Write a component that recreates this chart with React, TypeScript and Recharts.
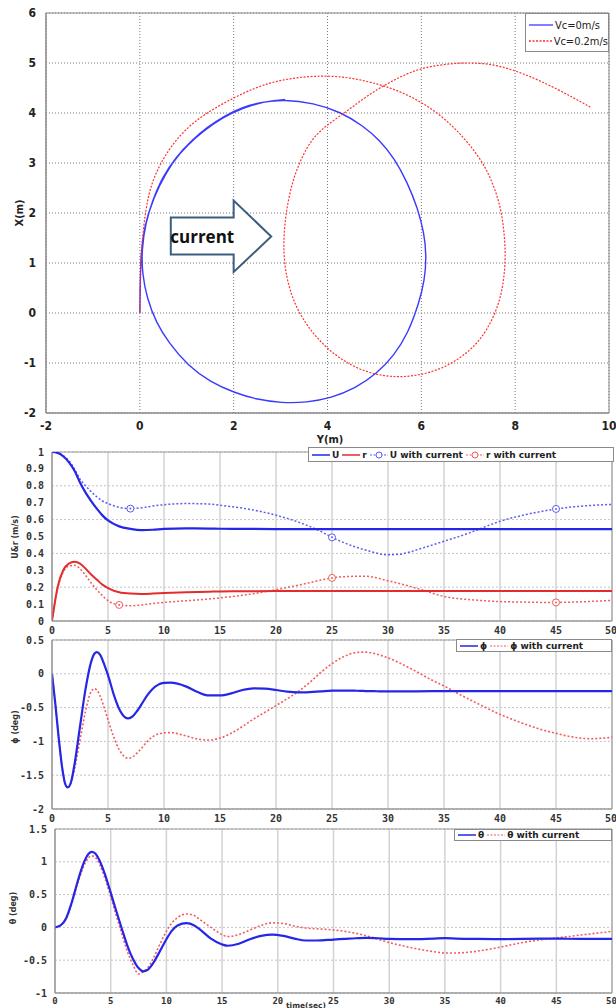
import { LineChart, Line, XAxis, YAxis, CartesianGrid, ReferenceArea, Legend } from 'recharts'

// ---- trajectory plot (Y horizontal, X vertical) ----
const trackY0 = [0, 0.01, 0.02, 0.1, 0.27, 0.48, 0.77, 1.1, 1.44, 1.8, 2.19, 2.6, 3.07, 3.7, 4.28, 4.75, 5.12, 5.42, 5.7, 5.92, 6.06, 6.11, 6.07, 5.95, 5.72, 5.42, 5.04, 4.6, 4.08, 3.55, 3.03, 2.5, 2.03, 1.5, 1.02, 0.62, 0.35, 0.15, 0.05, 0.04, 0.12, 0.29, 0.55, 0.85, 1.2, 1.55, 1.95, 2.4, 2.9, 3.1]
const trackX0 = [0, 0.6, 1.19, 1.75, 2.25, 2.72, 3.12, 3.45, 3.72, 3.94, 4.12, 4.22, 4.27, 4.2, 4.02, 3.75, 3.45, 3.1, 2.62, 2.1, 1.6, 1.15, 0.65, 0.2, -0.4, -0.85, -1.22, -1.5, -1.7, -1.79, -1.8, -1.73, -1.6, -1.38, -1.05, -0.6, -0.2, 0.3, 0.8, 1.25, 1.8, 2.3, 2.8, 3.2, 3.52, 3.78, 4.0, 4.17, 4.26, 4.27]
const trackY2 = [0, 0.005, 0.03, 0.08, 0.18, 0.36, 0.6, 0.88, 1.19, 1.6, 2.03, 2.45, 2.86, 3.4, 4.0, 4.55, 5.12, 5.55, 5.96, 6.35, 6.71, 7.0, 7.3, 7.5, 7.67, 7.76, 7.8, 7.76, 7.65, 7.4, 7.12, 6.8, 6.42, 5.95, 5.46, 4.95, 4.5, 4.1, 3.75, 3.45, 3.24, 3.11, 3.06, 3.08, 3.15, 3.26, 3.42, 3.64, 3.95, 4.35, 4.75, 5.16, 5.56, 5.96, 6.5, 7.0, 7.5, 7.97, 8.45, 8.89, 9.25, 9.6]
const trackX2 = [0, 0.6, 1.2, 1.75, 2.39, 2.85, 3.25, 3.58, 3.85, 4.1, 4.32, 4.5, 4.63, 4.72, 4.75, 4.7, 4.57, 4.43, 4.24, 4.0, 3.7, 3.4, 3.03, 2.65, 2.2, 1.7, 1.15, 0.65, 0.15, -0.35, -0.68, -0.92, -1.12, -1.25, -1.29, -1.22, -1.05, -0.8, -0.48, -0.1, 0.32, 0.78, 1.25, 1.72, 2.2, 2.65, 3.05, 3.45, 3.74, 3.99, 4.28, 4.53, 4.73, 4.89, 4.98, 5.01, 4.98, 4.86, 4.68, 4.48, 4.3, 4.12]
const trackTicksY = [-2, 0, 2, 4, 6, 8, 10]
const trackTicksX = [-2, -1, 0, 1, 2, 3, 4, 5, 6]

// "current" arrow outline, in (Y, X) metres
const arrowY = [0.66, 2.0, 2.0, 2.8, 2.0, 2.0, 0.66]
const arrowX = [1.91, 1.91, 2.25, 1.53, 0.82, 1.17, 1.17]

// ---- time histories ----
const timeTicks = [0, 5, 10, 15, 20, 25, 30, 35, 40, 45, 50]

const tSpeed = [0, 0.5, 1, 1.5, 2, 2.5, 3, 3.5, 4, 4.5, 5, 6, 7, 8, 9, 10, 12, 14, 15, 17, 20, 22, 24, 25, 26, 28, 30, 31, 33, 35, 37, 38, 40, 42, 44, 45, 47, 50]
const uSpeed = [1.0, 0.995, 0.975, 0.94, 0.89, 0.82, 0.76, 0.71, 0.665, 0.625, 0.595, 0.56, 0.545, 0.538, 0.54, 0.545, 0.548, 0.547, 0.546, 0.545, 0.544, 0.544, 0.544, 0.544, 0.544, 0.544, 0.544, 0.544, 0.544, 0.544, 0.544, 0.544, 0.544, 0.544, 0.544, 0.544, 0.544, 0.544]
const rSpeed = [0, 0.2, 0.3, 0.34, 0.35, 0.34, 0.31, 0.275, 0.245, 0.215, 0.195, 0.17, 0.162, 0.16, 0.162, 0.165, 0.17, 0.173, 0.175, 0.176, 0.177, 0.177, 0.177, 0.177, 0.177, 0.177, 0.177, 0.177, 0.177, 0.177, 0.177, 0.177, 0.177, 0.177, 0.177, 0.177, 0.177, 0.177]
const uSpeedCur = [1.0, 0.995, 0.978, 0.95, 0.9, 0.84, 0.8, 0.765, 0.735, 0.71, 0.695, 0.672, 0.665, 0.67, 0.68, 0.688, 0.695, 0.692, 0.685, 0.668, 0.626, 0.585, 0.53, 0.495, 0.465, 0.42, 0.392, 0.395, 0.43, 0.472, 0.515, 0.54, 0.59, 0.625, 0.652, 0.663, 0.678, 0.69]
const rSpeedCur = [0, 0.19, 0.29, 0.325, 0.33, 0.31, 0.27, 0.225, 0.185, 0.15, 0.12, 0.095, 0.09, 0.095, 0.103, 0.11, 0.12, 0.13, 0.137, 0.152, 0.185, 0.212, 0.242, 0.255, 0.262, 0.265, 0.238, 0.222, 0.185, 0.145, 0.128, 0.123, 0.115, 0.112, 0.11, 0.11, 0.113, 0.122]
const uCurMarks = [7, 25, 45]
const rCurMarks = [6, 25, 45]
const speedTicks = [0, 0.1, 0.2, 0.3, 0.4, 0.5, 0.6, 0.7, 0.8, 0.9, 1]

const tRoll = [0, 0.3, 0.6, 0.9, 1.2, 1.4, 1.7, 2, 2.5, 3, 3.5, 3.8, 4, 4.3, 4.7, 5, 5.5, 6, 6.5, 6.8, 7.2, 7.6, 8, 8.5, 9, 9.5, 10, 10.6, 11.2, 12, 13, 14, 15, 16, 17, 18, 19, 20, 21, 22, 23, 24, 25, 26, 27, 27.6, 28, 29, 30, 32, 34, 35, 36, 38, 40, 42, 44, 45, 46, 48, 50]
const phi = [0, -0.45, -0.95, -1.38, -1.64, -1.68, -1.6, -1.35, -0.78, -0.22, 0.18, 0.3, 0.32, 0.28, 0.12, -0.02, -0.3, -0.52, -0.64, -0.66, -0.63, -0.55, -0.45, -0.32, -0.22, -0.16, -0.135, -0.13, -0.145, -0.19, -0.27, -0.32, -0.32, -0.29, -0.24, -0.215, -0.22, -0.24, -0.265, -0.275, -0.27, -0.26, -0.25, -0.248, -0.25, -0.252, -0.255, -0.258, -0.26, -0.26, -0.257, -0.255, -0.255, -0.255, -0.255, -0.255, -0.255, -0.255, -0.255, -0.255, -0.255]
const phiCur = [0, -0.45, -0.95, -1.38, -1.64, -1.68, -1.62, -1.42, -0.98, -0.55, -0.26, -0.22, -0.24, -0.33, -0.52, -0.68, -0.93, -1.12, -1.23, -1.25, -1.23, -1.17, -1.1, -1.0, -0.93, -0.89, -0.875, -0.87, -0.885, -0.92, -0.965, -0.98, -0.95, -0.88, -0.78, -0.67, -0.57, -0.47, -0.37, -0.26, -0.13, 0.02, 0.15, 0.25, 0.31, 0.32, 0.32, 0.29, 0.235, 0.08, -0.1, -0.18, -0.27, -0.44, -0.6, -0.73, -0.84, -0.88, -0.92, -0.96, -0.94]
const rollTicks = [-2, -1.5, -1, -0.5, 0, 0.5]

const tPitch = [0, 0.5, 1, 1.5, 2, 2.5, 3, 3.3, 3.6, 4, 4.5, 5, 5.5, 6, 6.5, 7, 7.5, 7.9, 8.3, 8.8, 9.3, 10, 10.5, 11, 11.8, 12.5, 13, 14, 15, 15.5, 16.5, 17.5, 18.5, 19.5, 20.5, 21.5, 22.5, 23.5, 25, 26, 27, 28, 29, 30, 32, 34, 35, 36, 38, 40, 42, 44, 45, 46, 48, 50]
const theta = [0, 0.03, 0.14, 0.38, 0.68, 0.95, 1.12, 1.15, 1.13, 1.02, 0.8, 0.53, 0.25, -0.02, -0.28, -0.48, -0.62, -0.67, -0.65, -0.55, -0.4, -0.18, -0.05, 0.03, 0.065, 0.03, -0.03, -0.17, -0.26, -0.28, -0.25, -0.18, -0.13, -0.11, -0.13, -0.17, -0.2, -0.2, -0.185, -0.175, -0.165, -0.16, -0.165, -0.175, -0.18, -0.17, -0.165, -0.17, -0.175, -0.178, -0.175, -0.172, -0.172, -0.173, -0.175, -0.175]
const thetaCur = [0, 0.03, 0.13, 0.36, 0.65, 0.9, 1.06, 1.09, 1.07, 0.96, 0.74, 0.47, 0.18, -0.1, -0.37, -0.57, -0.71, -0.68, -0.62, -0.48, -0.3, -0.06, 0.07, 0.15, 0.205, 0.18, 0.12, 0.0, -0.11, -0.14, -0.11, -0.04, 0.03, 0.07, 0.06, 0.02, -0.01, -0.02, -0.04, -0.06, -0.09, -0.13, -0.18, -0.23, -0.31, -0.37, -0.39, -0.39, -0.36, -0.3, -0.23, -0.18, -0.16, -0.14, -0.1, -0.06]
const pitchTicks = [-1, -0.5, 0, 0.5, 1, 1.5]

const BLUE = '#2626e6'
const RED = '#e42c2c'
const BLUE_DOT = '#5c5cf2'
const RED_DOT = '#f25c5c'

// plot box of the trajectory chart, page pixels
const P1 = { left: 46, right: 609, top: 13, bottom: 413 }
const px = (y: number) => P1.left + ((y + 2) / 12) * (P1.right - P1.left)
const py = (x: number) => P1.top + ((6 - x) / 8) * (P1.bottom - P1.top)

const narrow = { fontFamily: '"DejaVu Sans Condensed", "Liberation Sans Narrow", sans-serif', fontWeight: 700, fontSize: 12, fill: '#222' }
const mono = { fontFamily: '"DejaVu Sans Mono", monospace', fontWeight: 700, fontSize: 10, fill: '#333' }

const TrackLegend = () => (
  <div style={{ width: 84, height: 39, boxSizing: 'border-box', border: '1px solid #8a8a8a', background: '#fff', fontFamily: '"DejaVu Sans Condensed", sans-serif', fontSize: 11, color: '#222', padding: '3px 0 0 3px' }}>
    {[
      { label: 'Vc=0m/s', color: '#3a3aff', dash: undefined },
      { label: 'Vc=0.2m/s', color: '#ff3030', dash: '2 1.5' },
    ].map((it) => (
      <div key={it.label} style={{ display: 'flex', alignItems: 'center', height: 16 }}>
        <svg width={24} height={6} style={{ marginRight: 2 }}>
          <line x1={0} y1={3} x2={24} y2={3} stroke={it.color} strokeWidth={1.3} strokeDasharray={it.dash} />
        </svg>
        <span>{it.label}</span>
      </div>
    ))}
  </div>
)

const TrackChart = () => {
  const blue = trackY0.map((y, i) => ({ y, x: trackX0[i] }))
  const red = trackY2.map((y, i) => ({ y, x: trackX2[i] }))
  const arrow = arrowY.map((y, i) => `${px(y)},${py(arrowX[i])}`).join(' ')
  return (
    <div style={{ position: 'absolute', left: 0, top: 0, width: 616, height: 446 }}>
      <LineChart width={616} height={446} margin={{ top: 13, right: 7, bottom: 15, left: 0 }}>
        <CartesianGrid stroke="#7a7a7a" strokeDasharray="1 2" />
        <XAxis
          type="number"
          dataKey="y"
          domain={[-2, 10]}
          ticks={trackTicksY}
          allowDataOverflow
          height={18}
          tickLine={false}
          tickMargin={2}
          axisLine={{ stroke: '#888' }}
          tick={narrow}
          label={{ content: () => <text x={330} y={443} textAnchor="middle" style={{ ...narrow, fontSize: 11 }}>Y(m)</text> }}
        />
        <YAxis
          type="number"
          domain={[-2, 6]}
          ticks={trackTicksX}
          allowDataOverflow
          width={46}
          tickLine={false}
          tickMargin={4}
          axisLine={{ stroke: '#888' }}
          tick={narrow}
          label={{ content: () => <text x={20} y={213} textAnchor="middle" dominantBaseline="middle" transform="rotate(-90 20 213)" style={{ ...narrow, fontSize: 11 }}>X(m)</text> }}
        />
        <ReferenceArea x1={-2} x2={10} y1={-2} y2={6} fill="none" stroke="#8a8a8a" />
        <Line data={blue} dataKey="x" type="basis" stroke="#3a3aff" strokeWidth={1.4} dot={false} isAnimationActive={false} />
        <Line data={red} dataKey="x" type="basis" stroke="#ff3030" strokeWidth={1.2} strokeDasharray="2 1.5" dot={false} isAnimationActive={false} />
        <Legend layout="horizontal" verticalAlign="middle" align="center" content={() => <TrackLegend />} wrapperStyle={{ left: 525, top: 13, width: 84, height: 39 }} />
      </LineChart>
      <svg width={616} height={446} style={{ position: 'absolute', left: 0, top: 0, pointerEvents: 'none' }}>
        <polygon points={arrow} fill="#fff" stroke="#3c5f80" strokeWidth={2} strokeLinejoin="miter" />
        <text x={px(1.33)} y={py(1.54)} textAnchor="middle" dominantBaseline="central" style={{ fontFamily: '"Open Sans", "Noto Sans", sans-serif', fontWeight: 700, fontSize: 17, fill: '#111' }}>
          current
        </text>
      </svg>
    </div>
  )
}

interface SeriesDef {
  values: number[]
  color: string
  width: number
  dash?: string
  marks?: number[]
}

interface LegendItem {
  label: string
  color: string
  width: number
  dash?: string
  mark?: boolean
}

interface TimeChartProps {
  top: number
  height: number
  plotTop: number
  plotBottom: number
  plotLeft: number
  t: number[]
  series: SeriesDef[]
  domain: [number, number]
  ticks: number[]
  yLabel: string
  yLabelPos: [number, number]
  legend: LegendItem[]
  legendBox: { left: number; top: number; width: number; height: number }
  xLabel?: string
}

const Marker = ({ cx, cy, color }: { cx: number; cy: number; color: string }) => (
  <g>
    <circle cx={cx} cy={cy} r={3.5} fill="#fff" stroke={color} strokeWidth={1} />
    <circle cx={cx} cy={cy} r={1} fill={color} />
  </g>
)

const TimeLegend = ({ items, box }: { items: LegendItem[]; box: TimeChartProps['legendBox'] }) => (
  <div style={{ width: box.width, height: box.height, boxSizing: 'border-box', border: '1px solid #8a8a8a', background: '#fff', display: 'flex', alignItems: 'center', padding: '0 3px', gap: 3, fontFamily: '"DejaVu Sans", sans-serif', fontWeight: 700, fontSize: 9, color: '#222', whiteSpace: 'nowrap' }}>
    {items.map((it) => (
      <div key={it.label} style={{ display: 'flex', alignItems: 'center' }}>
        <svg width={18} height={8} style={{ marginRight: 2 }}>
          <line x1={0} y1={4} x2={18} y2={4} stroke={it.color} strokeWidth={it.width} strokeDasharray={it.dash} />
          {it.mark ? <circle cx={9} cy={4} r={3} fill="#fff" stroke={it.color} strokeWidth={1} /> : null}
        </svg>
        <span>{it.label}</span>
      </div>
    ))}
  </div>
)

const TimeChart = (p: TimeChartProps) => {
  const rows = p.t.map((tt, i) => {
    const row: Record<string, number> = { t: tt }
    p.series.forEach((s, k) => {
      row[`s${k}`] = s.values[i]
    })
    return row
  })
  const xAxisH = 14
  const right = 612
  const margin = { top: p.plotTop - p.top, right: 616 - right, left: 0, bottom: p.height - (p.plotBottom - p.top) - xAxisH }
  const [lx, ly] = p.yLabelPos
  const lblStyle = { fontFamily: '"DejaVu Sans", sans-serif', fontWeight: 700, fontSize: 8, fill: '#333' }
  const xTick = p.xLabel ? { ...mono, fontSize: 9 } : mono
  return (
    <div style={{ position: 'absolute', left: 0, top: p.top, width: 616, height: p.height }}>
      <LineChart width={616} height={p.height} data={rows} margin={margin}>
        <CartesianGrid vertical={false} stroke="#c4c4c4" strokeDasharray="2 2" />
        <CartesianGrid horizontal={false} stroke="#d2d2d2" strokeWidth={1.5} />
        <XAxis
          type="number"
          dataKey="t"
          domain={[0, 50]}
          ticks={timeTicks}
          allowDataOverflow
          height={xAxisH}
          tickLine={false}
          tickMargin={p.xLabel ? -1 : 0}
          axisLine={{ stroke: '#999' }}
          tick={xTick}
          label={
            p.xLabel
              ? { content: () => <text x={306} y={p.height - 0.5} textAnchor="middle" style={{ ...lblStyle, fontSize: 7.5 }}>{p.xLabel}</text> }
              : undefined
          }
        />
        <YAxis
          type="number"
          domain={p.domain}
          ticks={p.ticks}
          allowDataOverflow
          width={p.plotLeft}
          tickLine={false}
          tickMargin={2}
          axisLine={{ stroke: '#999' }}
          tick={mono}
          label={{ content: () => <text x={lx} y={ly - p.top} textAnchor="middle" dominantBaseline="middle" transform={`rotate(-90 ${lx} ${ly - p.top})`} style={lblStyle}>{p.yLabel}</text> }}
        />
        <ReferenceArea x1={0} x2={50} y1={p.domain[0]} y2={p.domain[1]} fill="none" stroke="#999" />
        {p.series.map((s, k) => (
          <Line
            key={k}
            dataKey={`s${k}`}
            type="monotone"
            stroke={s.color}
            strokeWidth={s.width}
            strokeDasharray={s.dash}
            isAnimationActive={false}
            dot={
              s.marks
                ? (d: any) =>
                    s.marks!.includes(d.payload.t) ? (
                      <Marker key={`m${k}-${d.index}`} cx={d.cx} cy={d.cy} color={s.color} />
                    ) : (
                      <g key={`m${k}-${d.index}`} />
                    )
                : false
            }
          />
        ))}
        <Legend
          layout="horizontal"
          verticalAlign="middle"
          align="center"
          content={() => <TimeLegend items={p.legend} box={p.legendBox} />}
          wrapperStyle={{ left: p.legendBox.left, top: p.legendBox.top - p.top, width: p.legendBox.width, height: p.legendBox.height }}
        />
      </LineChart>
    </div>
  )
}

export default function App() {
  return (
    <div style={{ position: 'absolute', left: 0, top: 0, width: 616, height: 1008, background: '#fff', overflow: 'hidden' }}>
      <TrackChart />
      <TimeChart
        top={440}
        height={200}
        plotTop={452}
        plotBottom={621}
        plotLeft={52}
        t={tSpeed}
        series={[
          { values: uSpeedCur, color: BLUE_DOT, width: 1.5, dash: '2 2', marks: uCurMarks },
          { values: rSpeedCur, color: RED_DOT, width: 1.5, dash: '2 2', marks: rCurMarks },
          { values: uSpeed, color: BLUE, width: 2.2 },
          { values: rSpeed, color: RED, width: 2 },
        ]}
        domain={[0, 1]}
        ticks={speedTicks}
        yLabel="U&r (m/s)"
        yLabelPos={[15, 537]}
        legend={[
          { label: 'U', color: BLUE, width: 1.5 },
          { label: 'r', color: RED, width: 1.5 },
          { label: 'U with current', color: BLUE_DOT, width: 1.2, dash: '2 1.5', mark: true },
          { label: 'r with current', color: RED_DOT, width: 1.2, dash: '2 1.5', mark: true },
        ]}
        legendBox={{ left: 308, top: 447, width: 306, height: 15 }}
      />
      <TimeChart
        top={630}
        height={200}
        plotTop={640}
        plotBottom={809}
        plotLeft={52}
        t={tRoll}
        series={[
          { values: phiCur, color: RED_DOT, width: 1.6, dash: '2 2' },
          { values: phi, color: BLUE, width: 2.2 },
        ]}
        domain={[-2, 0.5]}
        ticks={rollTicks}
        yLabel="ϕ (deg)"
        yLabelPos={[15, 727]}
        legend={[
          { label: 'ϕ', color: BLUE, width: 1.5 },
          { label: 'ϕ with current', color: RED_DOT, width: 1.2, dash: '2 1.5' },
        ]}
        legendBox={{ left: 456, top: 639, width: 156, height: 13 }}
      />
      <TimeChart
        top={820}
        height={188}
        plotTop={829}
        plotBottom={993}
        plotLeft={55}
        t={tPitch}
        series={[
          { values: thetaCur, color: RED_DOT, width: 1.6, dash: '2 2' },
          { values: theta, color: BLUE, width: 2.2 },
        ]}
        domain={[-1, 1.5]}
        ticks={pitchTicks}
        yLabel="θ (deg)"
        yLabelPos={[13, 908]}
        legend={[
          { label: 'θ', color: BLUE, width: 1.5 },
          { label: 'θ with current', color: RED_DOT, width: 1.2, dash: '2 1.5' },
        ]}
        legendBox={{ left: 454, top: 829, width: 158, height: 12 }}
        xLabel="time(sec)"
      />
    </div>
  )
}
